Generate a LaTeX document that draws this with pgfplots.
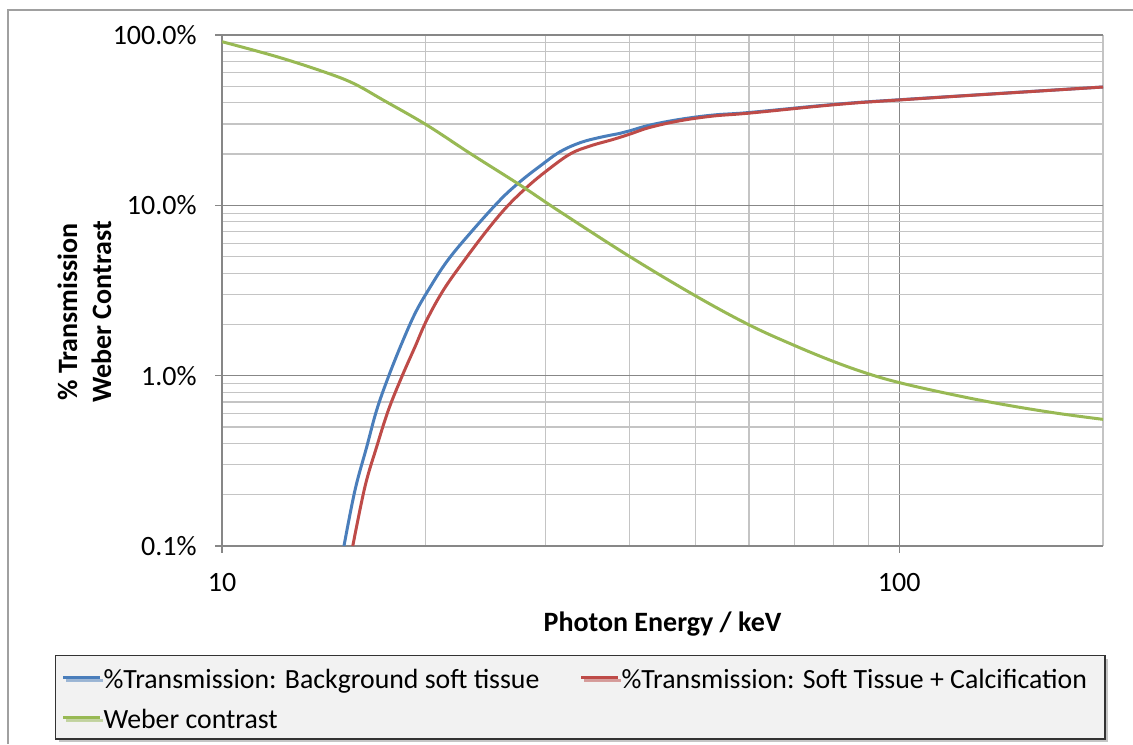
\documentclass[border=0pt]{standalone}
\usepackage{fontspec}
\setmainfont{Carlito}
\usepackage{pgfplots}
\pgfplotsset{compat=1.18}
\usetikzlibrary{shadows}
\definecolor{cblue}{HTML}{4A7EBB}
\definecolor{cred}{HTML}{BE4B48}
\definecolor{cgreen}{HTML}{98B954}
\definecolor{majgrid}{HTML}{878787}
\definecolor{mingrid}{HTML}{C4C4C4}
\definecolor{framegray}{HTML}{A0A0A0}
\definecolor{legfill}{HTML}{F2F2F2}
\newcommand\lstrut{\rule[-2.5pt]{0pt}{16pt}}

\pgfplotstableread{
x y
15.14 0.1
15.72 0.213
16.36 0.3825
16.92 0.628
17.61 0.985
18.43 1.549
19.28 2.32
20.17 3.18
21.47 4.67
23.24 6.85
25.74 10.74
27.55 13.76
29.49 17.01
31.57 20.64
33.79 23.32
36.17 25.07
38.71 26.47
40.05 27.42
42.88 29.61
47.49 31.99
53.18 33.91
60.26 35.12
80.45 39.2
101.3 41.8
200 49.53
}\blue

\pgfplotstableread{
x y
15.60 0.1
16.26 0.223
16.92 0.3825
17.61 0.628
18.43 0.985
19.28 1.479
20.06 2.121
21.23 3.18
22.72 4.67
24.60 7.1
26.34 9.81
28.19 12.76
30.17 15.97
32.66 20.01
34.96 22.30
37.84 24.40
40.05 26.22
42.88 28.71
47.49 31.39
53.18 33.45
60.26 34.83
80.45 39.0
101.3 41.7
200 49.50
}\red

\pgfplotstableread{
x y
10.00 91.35
12.05 74.6
14.12 60.9
15.63 52.04
17.30 41.5
20.06 29.61
23.24 20.2
27.55 13.16
31.57 9.17
40.05 4.99
50.09 2.934
60.11 1.982
70.22 1.498
80.17 1.207
90.09 1.025
100.3 0.908
117.6 0.787
139.4 0.688
169.0 0.606
200 0.554
}\green

\begin{document}
\fontsize{14}{17}\selectfont
\begin{tikzpicture}
\useasboundingbox (0pt,0pt) rectangle (566.5pt,372pt);
\draw[framegray, line width=0.6pt] (4pt,0pt) -- (4pt,367pt) -- (566.5pt,367pt);
\begin{axis}[
  at={(111pt,99pt)}, anchor=south west,
  scale only axis, width=440.5pt, height=255.5pt,
  xmode=log, ymode=log,
  xmin=10, xmax=200, ymin=0.1, ymax=100,
  xtick={10,100}, xticklabels={10,100},
  ytick={0.1,1,10,100}, yticklabels={0.1\%,1.0\%,10.0\%,100.0\%},
  minor xtick={20,30,40,50,60,70,80,90,200},
  minor ytick={0.2,0.3,0.4,0.5,0.6,0.7,0.8,0.9,2,3,4,5,6,7,8,9,20,30,40,50,60,70,80,90},
  grid=both,
  major grid style={majgrid, line width=0.6pt},
  minor grid style={mingrid, line width=0.6pt},
  axis x line*=bottom, axis y line*=left,
  axis line style={majgrid, line width=0.6pt},
  tick align=outside, major tick length=3.5pt, minor tick length=0pt,
  tick style={majgrid, line width=0.6pt},
  /pgf/number format/assume math mode=true,
  ticklabel style={font=\fontsize{14}{17}\selectfont},
  yticklabel style={anchor=east, inner sep=0pt, xshift=-9pt},
  xticklabel style={anchor=base, inner sep=0pt, yshift=-19.5pt},
  xlabel={Photon Energy / keV},
  xlabel style={at={(axis description cs:0.5,0)}, anchor=base, yshift=-42.5pt, font=\bfseries\fontsize{14}{17}\selectfont},
  ylabel={\% Transmission\\Weber Contrast},
  ylabel style={at={(axis description cs:-0.1561,0.458)}, anchor=center, rotate=0, align=center, font=\bfseries\fontsize{14}{17}\selectfont},
  every axis plot/.append style={line width=1.5pt, line join=round},
  legend columns=2,
  legend cell align=left,
  legend image code/.code={\draw[#1] (0pt,0pt) -- (18.5pt,0pt);},
  legend style={at={(axis description cs:-0.1896,-0.2133)}, anchor=north west,
    fill=legfill, draw=black!80, line width=0.6pt,
    drop shadow={shadow xshift=1.5pt, shadow yshift=-1.5pt, fill=black!45},
    inner xsep=3pt, inner ysep=2pt, row sep=2.5pt,
    nodes={inner sep=1pt},
    font=\fontsize{13.9}{17}\selectfont,
    /tikz/every even column/.append style={column sep=19pt}},
]
\addplot[cblue, smooth, tension=0.6] table[x=x,y=y] {\blue};
\addlegendentry{\lstrut\%Transmission: Background soft tissue}
\addplot[cred, smooth, tension=0.6] table[x=x,y=y] {\red};
\addlegendentry{\lstrut\%Transmission: Soft Tissue + Calcification\kern5pt}
\addplot[cgreen, smooth, tension=0.6] table[x=x,y=y] {\green};
\addlegendentry{\lstrut Weber contrast}
\end{axis}
\end{tikzpicture}
\end{document}
